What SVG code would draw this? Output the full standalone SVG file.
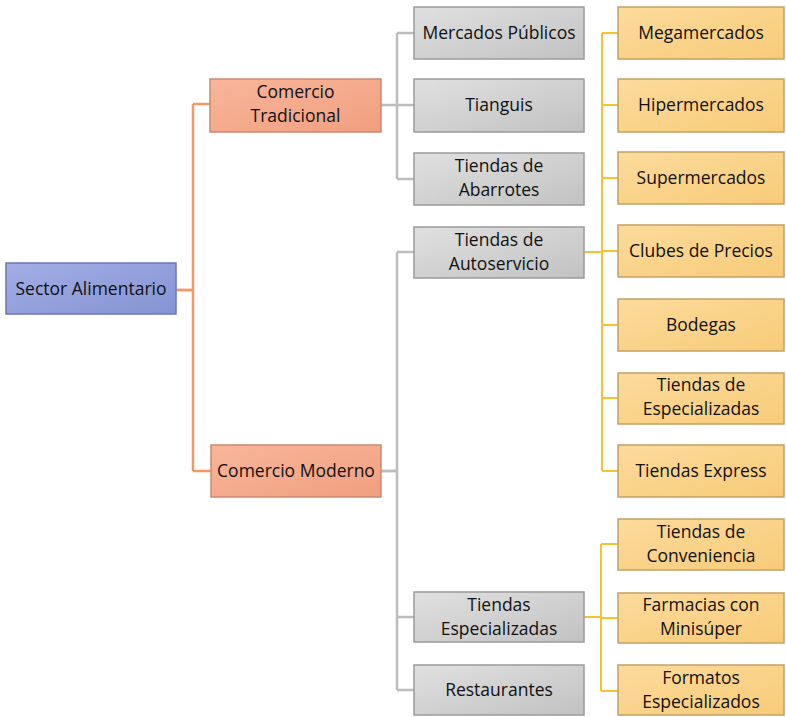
<svg xmlns="http://www.w3.org/2000/svg" width="786" height="717" viewBox="0 0 786 717">
<defs>
<linearGradient id="gBlue" x1="0" y1="0" x2="1" y2="1"><stop offset="0" stop-color="#a3aee6"/><stop offset="1" stop-color="#8593d3"/></linearGradient>
<linearGradient id="gOrange" x1="0" y1="0" x2="1" y2="1"><stop offset="0" stop-color="#f8b69a"/><stop offset="1" stop-color="#f19f80"/></linearGradient>
<linearGradient id="gGray" x1="0" y1="0" x2="1" y2="1"><stop offset="0" stop-color="#e0e0e0"/><stop offset="1" stop-color="#c2c2c2"/></linearGradient>
<linearGradient id="gYellow" x1="0" y1="0" x2="1" y2="1"><stop offset="0" stop-color="#fcdb9c"/><stop offset="1" stop-color="#f8cb78"/></linearGradient>
</defs>
<style>
text{font-family:"Open Sans","Liberation Sans",sans-serif;font-size:17.5px;fill:#111;text-anchor:middle}
.blue{fill:url(#gBlue);stroke:#6c78b4;stroke-width:1.5}
.orange{fill:url(#gOrange);stroke:#c98a70;stroke-width:1.5}
.gray{fill:url(#gGray);stroke:#9a9a9a;stroke-width:1.5}
.yellow{fill:url(#gYellow);stroke:#c4a064;stroke-width:1.5}
.lo{fill:none;stroke:#f29a66;stroke-width:2.5}
.lg{fill:none;stroke:#bdbdbd;stroke-width:2.5}
.ly{fill:none;stroke:#f6c232;stroke-width:2}
</style>
<rect width="786" height="717" fill="#ffffff"/>
<g id="connectors">
<path class="lo" d="M176 290H193M193 104V471M193 104H210M193 471H211"/>
<path class="lo" d="M176 290H193" stroke-width="4"/>
<path class="lg" d="M381 105H397M397 33V179M397 33H414M397 105H414M397 179H414"/>
<path class="lg" d="M381 471H397M397 252V690M397 252H414M397 617H414M397 690H414"/>
<path class="lg" d="M381 471H397" stroke-width="4"/>
<path class="ly" d="M584 252H602M602 33V471M602 33H618M602 105H618M602 178H618M602 251H618M602 325H618M602 398H618M602 471H618"/>
<path class="ly" d="M584 252H602" stroke-width="4"/>
<path class="ly" d="M584 617H601M601 544V691M601 544H618M601 618H618M601 691H618"/>
<path class="ly" d="M584 617H601" stroke-width="3"/>
</g>
<g id="sector"><rect class="blue" x="6" y="263" width="170" height="51"/><text x="91" y="295">Sector Alimentario</text></g>
<g id="tradicional"><rect class="orange" x="210" y="79" width="171" height="53"/><text x="295.5" y="98">Comercio</text><text x="295.5" y="122">Tradicional</text></g>
<g id="moderno"><rect class="orange" x="211" y="445" width="170" height="52"/><text x="296" y="477">Comercio Moderno</text></g>
<g id="mercados"><rect class="gray" x="414" y="7" width="170" height="52"/><text x="499" y="39">Mercados Públicos</text></g>
<g id="tianguis"><rect class="gray" x="414" y="79" width="170" height="53"/><text x="499" y="111">Tianguis</text></g>
<g id="abarrotes"><rect class="gray" x="414" y="153" width="170" height="52"/><text x="499" y="172">Tiendas de</text><text x="499" y="196">Abarrotes</text></g>
<g id="autoservicio"><rect class="gray" x="414" y="227" width="170" height="51"/><text x="499" y="246">Tiendas de</text><text x="499" y="270">Autoservicio</text></g>
<g id="especializadas"><rect class="gray" x="414" y="592" width="170" height="50"/><text x="499" y="611">Tiendas</text><text x="499" y="635">Especializadas</text></g>
<g id="restaurantes"><rect class="gray" x="414" y="665" width="170" height="50"/><text x="499" y="696">Restaurantes</text></g>
<g id="megamercados"><rect class="yellow" x="618" y="7" width="166" height="52"/><text x="701" y="39">Megamercados</text></g>
<g id="hipermercados"><rect class="yellow" x="618" y="79" width="166" height="53"/><text x="701" y="111">Hipermercados</text></g>
<g id="supermercados"><rect class="yellow" x="618" y="152" width="166" height="52"/><text x="701" y="184">Supermercados</text></g>
<g id="clubes"><rect class="yellow" x="618" y="225" width="166" height="52"/><text x="701" y="257">Clubes de Precios</text></g>
<g id="bodegas"><rect class="yellow" x="618" y="299" width="166" height="52"/><text x="701" y="331">Bodegas</text></g>
<g id="tiendas-esp"><rect class="yellow" x="618" y="373" width="166" height="51"/><text x="701" y="391">Tiendas de</text><text x="701" y="415">Especializadas</text></g>
<g id="express"><rect class="yellow" x="618" y="445" width="166" height="52"/><text x="701" y="477">Tiendas Express</text></g>
<g id="conveniencia"><rect class="yellow" x="618" y="519" width="166" height="51"/><text x="701" y="538">Tiendas de</text><text x="701" y="562">Conveniencia</text></g>
<g id="farmacias"><rect class="yellow" x="618" y="593" width="166" height="50"/><text x="701" y="611">Farmacias con</text><text x="701" y="635">Minisúper</text></g>
<g id="formatos"><rect class="yellow" x="618" y="665" width="166" height="50"/><text x="701" y="684">Formatos</text><text x="701" y="708">Especializados</text></g>
</svg>
